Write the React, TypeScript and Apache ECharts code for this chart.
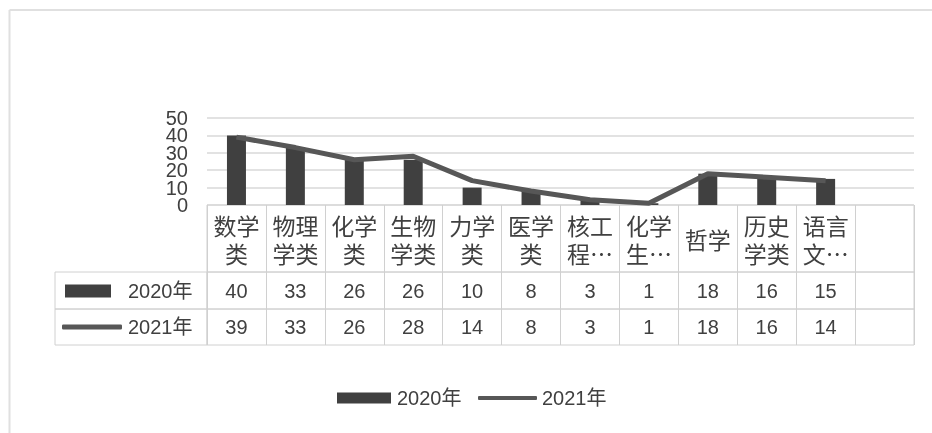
import React, { useEffect, useRef } from "react";
import * as echarts from "echarts";

const categories = ["数学\n类", "物理\n学类", "化学\n类", "生物\n学类", "力学\n类", "医学\n类", "核工\n程…", "化学\n生…", "哲学", "历史\n学类", "语言\n文…", ""];
const values2020: (number | null)[] = [40, 33, 26, 26, 10, 8, 3, 1, 18, 16, 15, null];
const values2021: (number | null)[] = [39, 33, 26, 28, 14, 8, 3, 1, 18, 16, 14, null];
const seriesNames = ["2020年", "2021年"];
const yMin = 0;
const yMax = 50;
const yInterval = 10;

const FONT = "'Liberation Sans', 'Noto Sans CJK SC', sans-serif";
const CJK = "'Noto Sans CJK SC', sans-serif";
const TEXT = "#404040";
const BORDER = "#d0d0d0";
const BAR = "#404040";
const LINE = "#575757";

export default function App() {
  const ref = useRef<HTMLDivElement>(null);
  useEffect(() => {
    document.body.style.margin = "0";
    const chart = echarts.init(ref.current!, null, { renderer: "svg" });
    const tableGrid = (left: number, top: number, width: number, height: number) => ({
      left, top, width, height, show: true, borderColor: BORDER, borderWidth: 1, backgroundColor: "transparent",
    });
    const hiddenX = (gridIndex: number) => ({ type: "category", gridIndex, show: false, data: [""] });
    const hiddenY = (gridIndex: number) => ({ type: "value", gridIndex, show: false });
    const rowAxis = (gridIndex: number, data: string[], height: number, font: string, extra: any = {}) => ({
      type: "category",
      gridIndex,
      data,
      boundaryGap: true,
      axisLine: { show: false },
      axisTick: { show: false },
      splitLine: { show: true, interval: 0, lineStyle: { color: BORDER, width: 1 } },
      axisLabel: {
        show: true,
        inside: true,
        interval: 0,
        margin: height / 2,
        verticalAlign: "middle",
        align: "center",
        color: TEXT,
        fontSize: 20,
        fontFamily: font,
        ...extra,
      },
    });
    const valueAxis = (parity: number, splitShow: boolean) => ({
      type: "value",
      gridIndex: 0,
      position: "left",
      min: yMin,
      max: yMax,
      interval: yInterval,
      axisLine: { show: false },
      axisTick: { show: false },
      axisLabel: {
        color: TEXT, fontSize: 20, lineHeight: 17, fontFamily: FONT, margin: 19,
        showMinLabel: true, showMaxLabel: true, hideOverlap: false,
        formatter: (v: number) => (Math.round(v / yInterval) % 2 === parity ? String(v) : ""),
      },
      splitLine: { show: splitShow, lineStyle: { color: "#d9d9d9", width: 1.5 } },
    });
    const legendText = (pad: number) => ({ fontSize: 20, color: TEXT, fontFamily: FONT, padding: [0, 0, 0, pad] });

    chart.setOption({
      animation: false,
      grid: [
        { left: 207, top: 118, width: 707, height: 87, show: false },
        tableGrid(207, 205, 707, 67),
        tableGrid(207, 272, 707, 37),
        tableGrid(207, 309, 707, 36),
        tableGrid(55, 272, 152, 37),
        tableGrid(55, 309, 152, 36),
      ],
      xAxis: [
        {
          type: "category",
          gridIndex: 0,
          data: categories,
          boundaryGap: true,
          axisLine: { show: false },
          axisTick: { show: false },
          axisLabel: { show: false },
          splitLine: { show: false },
        },
        rowAxis(1, categories, 67, CJK, { fontSize: 23, lineHeight: 28 }),
        rowAxis(2, values2020.map((v) => (v == null ? "" : String(v))), 37, FONT),
        rowAxis(3, values2021.map((v) => (v == null ? "" : String(v))), 36, FONT),
        hiddenX(4),
        hiddenX(5),
      ],
      yAxis: [
        valueAxis(0, true),
        hiddenY(1),
        hiddenY(2),
        hiddenY(3),
        hiddenY(4),
        hiddenY(5),
        valueAxis(1, false),
      ],
      legend: [
        {
          data: [{ name: seriesNames[0], icon: "rect" }],
          left: 65, top: 281, padding: 0, itemWidth: 46, itemHeight: 13,
          selectedMode: false, textStyle: legendText(12),
        },
        {
          data: [{ name: seriesNames[1], icon: "roundRect" }],
          left: 62, top: 317, padding: 0, itemWidth: 60, itemHeight: 5,
          selectedMode: false, textStyle: legendText(1),
        },
        {
          data: [{ name: seriesNames[0], icon: "rect" }],
          left: 337, top: 388, padding: 0, itemWidth: 54, itemHeight: 11,
          selectedMode: false, textStyle: legendText(1),
        },
        {
          data: [{ name: seriesNames[1], icon: "roundRect" }],
          left: 478, top: 388, padding: 0, itemWidth: 59, itemHeight: 4,
          selectedMode: false, textStyle: legendText(0),
        },
      ],
      graphic: [
        { type: "line", shape: { x1: 9.5, y1: 10, x2: 9.5, y2: 433 }, style: { stroke: "#e0e0e0", lineWidth: 2 } },
        { type: "line", shape: { x1: 9.5, y1: 10, x2: 932, y2: 10 }, style: { stroke: "#e0e0e0", lineWidth: 2 } },
      ],
      series: [
        {
          name: seriesNames[0],
          type: "bar",
          xAxisIndex: 0,
          yAxisIndex: 0,
          data: values2020,
          barWidth: 19,
          color: BAR,
          itemStyle: { color: BAR },
          z: 2,
        },
        {
          name: seriesNames[1],
          type: "line",
          xAxisIndex: 0,
          yAxisIndex: 0,
          data: values2021,
          symbol: "none",
          color: LINE,
          itemStyle: { color: LINE },
          lineStyle: { color: LINE, width: 5 },
          z: 3,
        },
      ],
    });
    return () => chart.dispose();
  }, []);
  return <div ref={ref} style={{ position: "fixed", left: 0, top: 0, width: 932, height: 433 }} />;
}
